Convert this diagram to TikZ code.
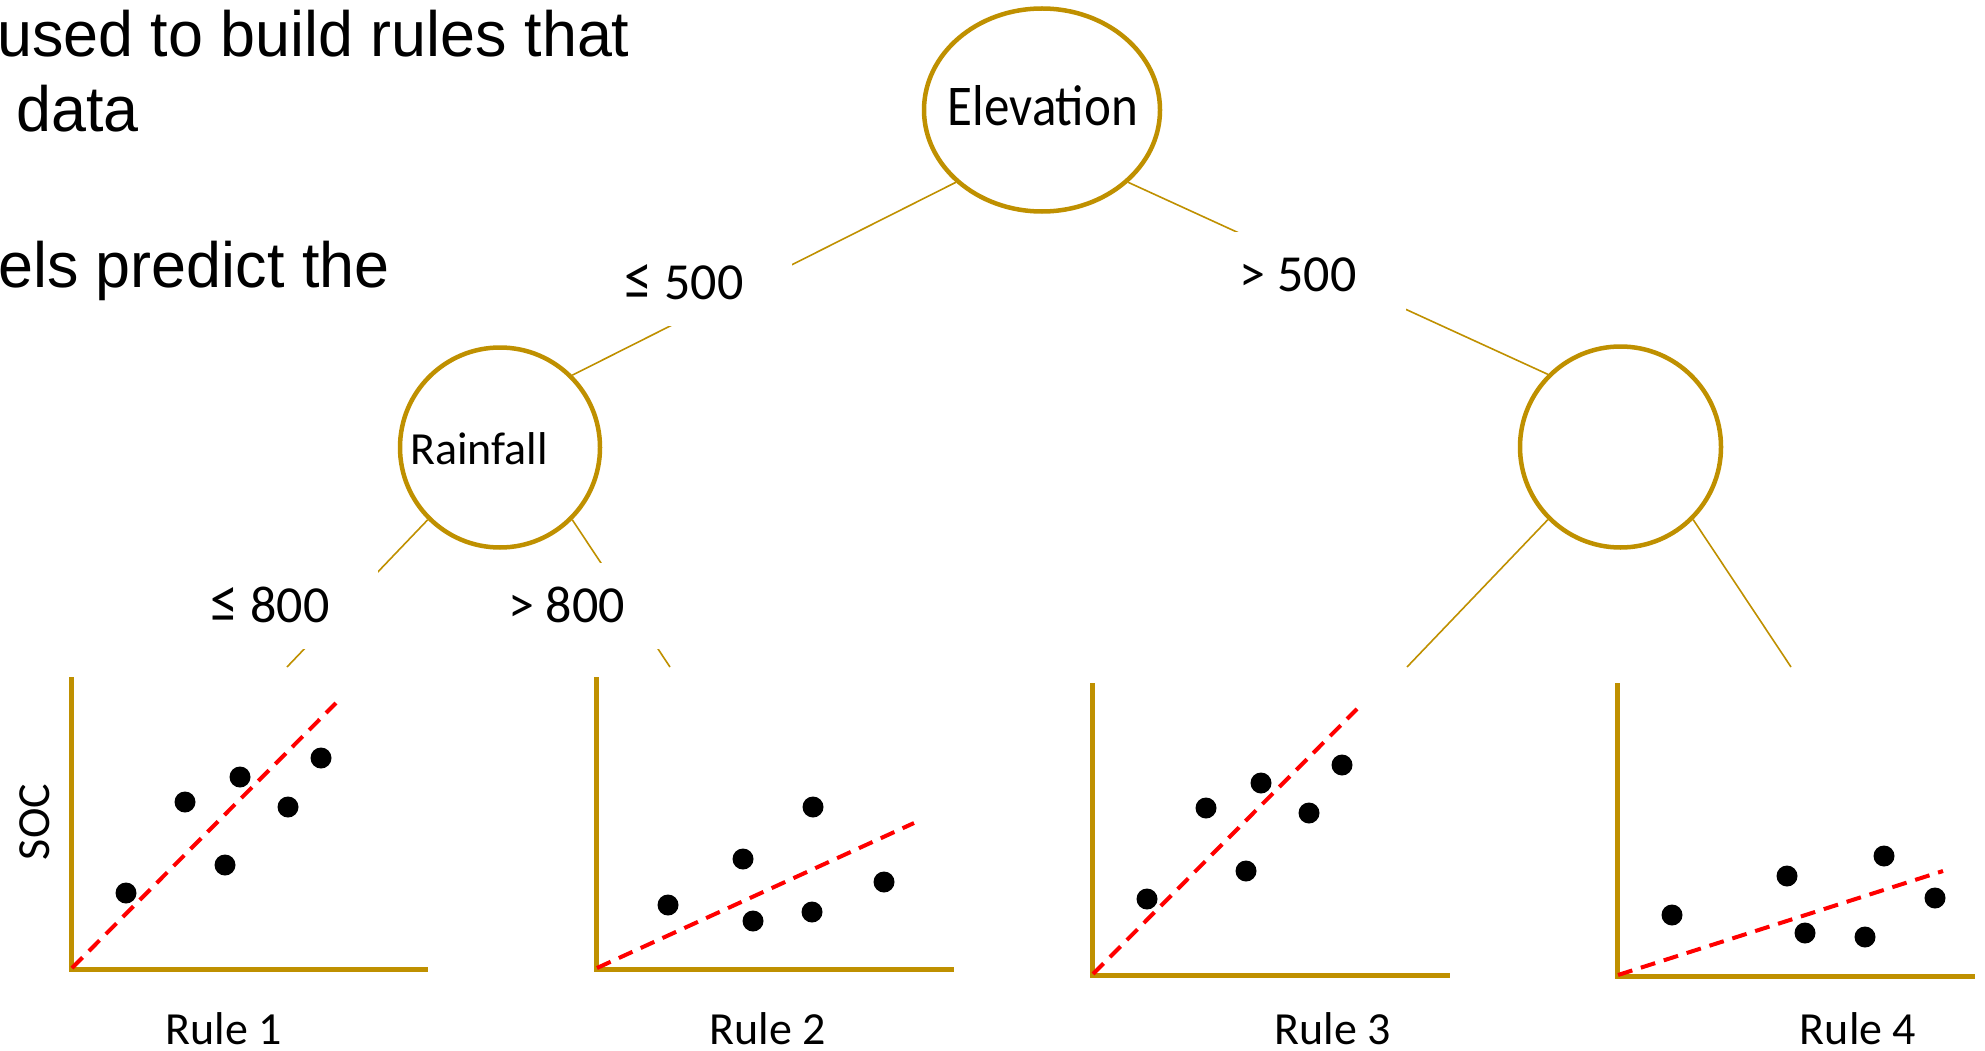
\documentclass[tikz,border=0pt]{standalone}
\usepackage{fontspec}
\setmainfont{Carlito}
\newfontfamily\titlefont{Liberation Sans}
\usetikzlibrary{shapes.geometric}
\definecolor{gold}{HTML}{BF9000}
\definecolor{fitred}{HTML}{FF0000}
\newcommand{\bigle}{\scalebox{1.08}[1.22]{≤}}
\begin{document}
\begin{tikzpicture}[x=1pt,y=-1pt,
  treenode/.style={draw=gold, line width=4.5pt, inner sep=0pt},
  branch/.style={draw=gold, line width=1.6pt},
  cond/.style={fill=white, minimum width=216pt, minimum height=86pt, text height=33pt, text depth=0pt, inner sep=0pt, font=\fontsize{52}{60}\selectfont},
  axisline/.style={draw=gold, line width=5pt},
  fitline/.style={draw=fitred, line width=4pt, dash pattern=on 15pt off 9pt},
  dot/.style={circle, fill=black, inner sep=0pt, minimum size=21pt},
  rulelbl/.style={anchor=base, inner sep=0pt, font=\fontsize{46}{54}\selectfont},
  titletxt/.style={anchor=base west, inner sep=0pt, font=\titlefont\fontsize{64}{76}\selectfont}
]
\useasboundingbox (0,0) rectangle (1985,1051);
\clip (0,0) rectangle (1985,1051);

% title text (cut off at the left)
\node[titletxt] (t1) at (-3,57) {\scalebox{0.982}[1]{used to build rules that}};
\node[titletxt] (t2) at (16,132) {\scalebox{0.982}[1]{data}};
\node[titletxt] (t3) at (-2,287) {\scalebox{0.982}[1]{els predict the}};

% tree nodes
\node[treenode, ellipse, minimum width=236pt, minimum height=203pt] (elev) at (1042,110) {};
\node[treenode, circle, minimum size=200pt] (rain) at (500,447.5) {};
\node[treenode, circle, minimum size=201pt] (rnode) at (1620.5,447) {};
\node[anchor=base, inner sep=0pt, font=\fontsize{51}{60}\selectfont] (elevlbl) at (1043,126) {\scalebox{1}[1.13]{Elevation}};
\node[anchor=base, inner sep=0pt, font=\fontsize{46}{54}\selectfont] (rainlbl) at (479,464) {Rainfall};

% free ends of branches above the plots
\coordinate (e1) at (287,667);
\coordinate (e2) at (670,667);
\coordinate (e3) at (1407,667);
\coordinate (e4) at (1791,667);

% branches
\draw[branch] (elev.220) -- (rain.45);
\draw[branch] (elev.-40) -- (rnode.135);
\draw[branch] (rain.225) -- (e1);
\draw[branch] (rain.-45) -- (e2);
\draw[branch] (rnode.225) -- (e3);
\draw[branch] (rnode.-45) -- (e4);

% condition labels (white text boxes over the branches)
\node[cond] (c1) at (684,282.5) {\bigle{} 500};
\node[cond] (c2) at (1298,275) {> 500};
\node[cond] (c3) at (270,605.5) {\bigle{} 800};
\node[cond] (c4) at (566.5,605.5) {> 800};

% plot 1
\draw[axisline] (71,677) -- (71,969) -- (428,969);
\draw[fitline] (72,968) -- (336,703);
\foreach \p [count=\i] in {(126,893),(185,802),(240,777),(225,865),(288,807),(321,758)}
  \node[dot] (a\i) at \p {};
\node[rulelbl] (r1) at (224,1044) {Rule 1};
\node[rotate=90, inner sep=0pt, font=\fontsize{46}{54}\selectfont] (soc) at (35,822) {SOC};

% plot 2
\draw[axisline] (596,677) -- (596,969) -- (954,969);
\draw[fitline] (597,968) -- (914,823);
\foreach \p [count=\i] in {(668,905),(743,859),(753,921),(813,807),(812,912),(884,882)}
  \node[dot] (b\i) at \p {};
\node[rulelbl] (r2) at (768,1044) {Rule 2};

% plot 3
\draw[axisline] (1092,683) -- (1092,975) -- (1450,975);
\draw[fitline] (1093,974) -- (1357,709);
\foreach \p [count=\i] in {(1147,899),(1206,808),(1261,783),(1246,871),(1309,813),(1342,765)}
  \node[dot] (c\i) at \p {};
\node[rulelbl] (r3) at (1333,1044) {Rule 3};

% plot 4
\draw[axisline] (1617,683) -- (1617,976) -- (1975,976);
\draw[fitline] (1618,975) -- (1943,871);
\foreach \p [count=\i] in {(1672,915),(1787,876),(1805,933),(1884,856),(1865,937),(1935,898)}
  \node[dot] (d\i) at \p {};
\node[rulelbl] (r4) at (1858,1044) {Rule 4};
\end{tikzpicture}
\end{document}
